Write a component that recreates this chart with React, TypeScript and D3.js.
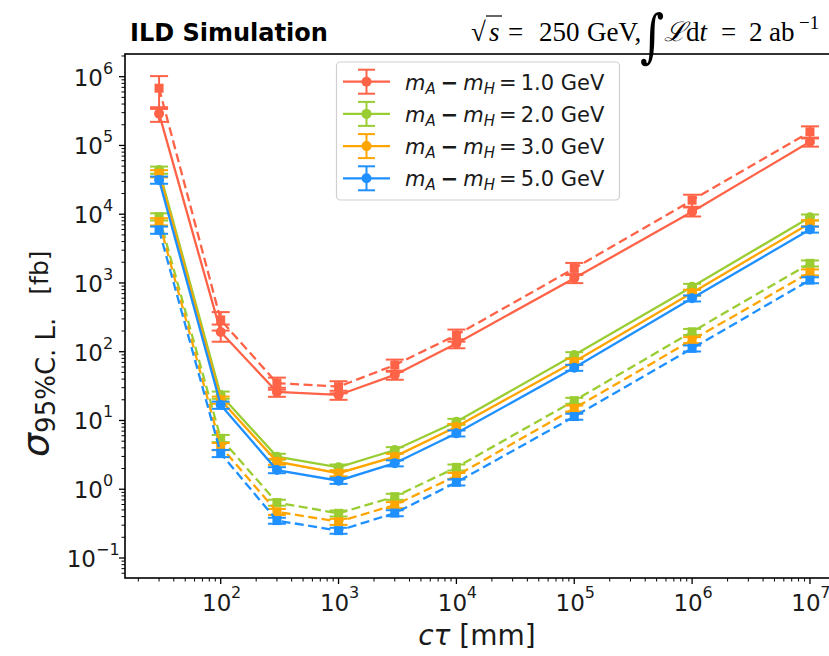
import React from "react";
import * as d3 from "d3";

const W = 829;
const H = 656;

const ctau = [30, 100, 300, 1000, 3000, 1e4, 1e5, 1e6, 1e7];

const red = [2.9e5, 194, 26, 23.5, 46, 132, 1170, 1.09e4, 1.13e5];
const redDash = [6.8e5, 290, 35, 31, 64, 175, 1630, 1.6e4, 1.58e5];
const green = [4.4e4, 23.5, 2.98, 2.08, 3.72, 9.6, 89.5, 883, 9.0e3];
const greenDash = [9.2e3, 5.5, 0.64, 0.446, 0.78, 2.08, 19.4, 195, 1.93e3];
const orange = [3.9e4, 19.9, 2.52, 1.71, 2.98, 8.1, 71.6, 722, 7.4e3];
const orangeDash = [7.8e3, 4.2, 0.47, 0.337, 0.59, 1.57, 15.0, 148, 1.43e3];
const blue = [3.15e4, 16.8, 1.9, 1.33, 2.39, 6.5, 58.6, 598, 6.0e3];
const blueDash = [5.9e3, 3.33, 0.35, 0.25, 0.45, 1.26, 11.4, 112, 1.1e3];

// relative errors
const redErr = [0.24, 0.28, 0.15, 0.15, 0.15, 0.15, 0.15, 0.15, 0.15];
const redDashErr = [0.5, 0.3, 0.2, 0.2, 0.2, 0.2, 0.2, 0.2, 0.2];
const smallErr = [0.12, 0.12, 0.1, 0.1, 0.1, 0.1, 0.1, 0.1, 0.1];

const massLabels = ["1.0", "2.0", "3.0", "5.0"];
const colors = ["#ff6347", "#9acd32", "#ffa500", "#1e90ff"];

const xTicks = [1e2, 1e3, 1e4, 1e5, 1e6, 1e7];
const xTickExp = ["2", "3", "4", "5", "6", "7"];
const yTicks = [1e-1, 1e0, 1e1, 1e2, 1e3, 1e4, 1e5, 1e6];
const yTickExp = ["\u22121", "0", "1", "2", "3", "4", "5", "6"];

const series = [
  { color: colors[0], solid: red, dash: redDash, errS: redErr, errD: redDashErr },
  { color: colors[1], solid: green, dash: greenDash, errS: smallErr, errD: smallErr },
  { color: colors[2], solid: orange, dash: orangeDash, errS: smallErr, errD: smallErr },
  { color: colors[3], solid: blue, dash: blueDash, errS: smallErr, errD: smallErr },
];

const L = 125, R = 832, T = 54, B = 578;

export default function App() {
  const x = d3.scaleLog().domain([Math.pow(10, 1.188), Math.pow(10, 7.187)]).range([L, R]);
  const y = d3.scaleLog().domain([Math.pow(10, -1.291), Math.pow(10, 6.33)]).range([B, T]);
  const line = d3.line<number>().x((_, i) => x(ctau[i])).y((d) => y(d));

  const xMinor: number[] = [];
  for (let e = 1; e <= 7; e++) for (let k = 2; k <= 9; k++) {
    const v = k * Math.pow(10, e);
    if (x(v) >= L && x(v) <= R) xMinor.push(v);
  }
  const yMinor: number[] = [];
  for (let e = -2; e <= 6; e++) for (let k = 2; k <= 9; k++) {
    const v = k * Math.pow(10, e);
    if (y(v) >= T && y(v) <= B) yMinor.push(v);
  }

  const cap = 9;
  const renderSeries = (vals: number[], err: number[], color: string, dashed: boolean, key: string) => (
    <g key={key}>
      <path d={line(vals) || ""} fill="none" stroke={color} strokeWidth={2.3} strokeDasharray={dashed ? "9,4.5" : undefined} />
      {vals.map((v, i) => {
        const cx = x(ctau[i]);
        const y1 = y(v * (1 + err[i]));
        const y0 = y(Math.max(v * (1 - err[i]), 1e-3));
        return (
          <g key={i}>
            <line x1={cx} x2={cx} y1={y0} y2={y1} stroke={color} strokeWidth={2} />
            <line x1={cx - cap} x2={cx + cap} y1={y0} y2={y0} stroke={color} strokeWidth={2} />
            <line x1={cx - cap} x2={cx + cap} y1={y1} y2={y1} stroke={color} strokeWidth={2} />
            {dashed ? (
              <rect x={cx - 4.5} y={y(v) - 4.5} width={9} height={9} fill={color} />
            ) : (
              <circle cx={cx} cy={y(v)} r={5} fill={color} />
            )}
          </g>
        );
      })}
    </g>
  );

  const font = "DejaVu Sans, sans-serif";
  const serif = "Liberation Serif, DejaVu Serif, serif";

  return (
    <svg width={W} height={H} style={{ position: "absolute", left: 0, top: 0, background: "#fff" }}>
      <rect x={0} y={0} width={W} height={H} fill="#fff" />
      {/* data */}
      <g>
        {series.map((s, k) => (
          <g key={k}>
            {renderSeries(s.solid, s.errS, s.color, false, "s" + k)}
            {renderSeries(s.dash, s.errD, s.color, true, "d" + k)}
          </g>
        ))}
      </g>
      {/* frame */}
      <rect x={L} y={T} width={R - L} height={B - T} fill="none" stroke="#000" strokeWidth={1.6} />
      {/* x ticks */}
      {xTicks.map((v, i) => (
        <g key={"xt" + i}>
          <line x1={x(v)} x2={x(v)} y1={B} y2={B + 6} stroke="#000" strokeWidth={1.3} />
          <text x={x(v) - 4} y={611} textAnchor="middle" fontFamily={font} fontSize={23} fill="#1a1a1a">
            10
          </text>
          <text x={x(v) + 15.5} y={598} textAnchor="middle" fontFamily={font} fontSize={16} fill="#1a1a1a">
            {xTickExp[i]}
          </text>
        </g>
      ))}
      {xMinor.map((v, i) => (
        <line key={"xm" + i} x1={x(v)} x2={x(v)} y1={B} y2={B + 3.5} stroke="#000" strokeWidth={1} />
      ))}
      {/* y ticks */}
      {yTicks.map((v, i) => (
        <g key={"yt" + i}>
          <line x1={L - 6} x2={L} y1={y(v)} y2={y(v)} stroke="#000" strokeWidth={1.3} />
          <text x={yTickExp[i].length > 1 ? 96 : 103} y={y(v) + 9} textAnchor="end" fontFamily={font} fontSize={23} fill="#1a1a1a">
            10
          </text>
          <text x={yTickExp[i].length > 1 ? 96 : 103} y={y(v) - 3} textAnchor="start" fontFamily={font} fontSize={16} fill="#1a1a1a">
            {yTickExp[i]}
          </text>
        </g>
      ))}
      {yMinor.map((v, i) => (
        <line key={"ym" + i} x1={L - 3.5} x2={L} y1={y(v)} y2={y(v)} stroke="#000" strokeWidth={1} />
      ))}
      {/* legend */}
      <rect x={336.5} y={62} width={283} height={138} rx={4} fill="#fff" fillOpacity={0.8} stroke="#d0d0d0" strokeWidth={1.2} />
      {massLabels.map((m, i) => {
        const cy = 81.7 + i * 32.2;
        const c = colors[i];
        return (
          <g key={"lg" + i}>
            <line x1={343} x2={390} y1={cy} y2={cy} stroke={c} strokeWidth={2.3} />
            <line x1={366.5} x2={366.5} y1={cy - 12} y2={cy + 12} stroke={c} strokeWidth={2} />
            <line x1={358} x2={375} y1={cy - 12} y2={cy - 12} stroke={c} strokeWidth={2} />
            <line x1={358} x2={375} y1={cy + 12} y2={cy + 12} stroke={c} strokeWidth={2} />
            <circle cx={366.5} cy={cy} r={5} fill={c} />
            <text x={405} y={cy + 8} fontFamily={font} fontSize={21} fill="#1a1a1a">
              <tspan fontStyle="italic">m</tspan>
              <tspan fontStyle="italic" fontSize={15} dy={4}>A</tspan>
              <tspan dy={-4} dx={5} fontWeight="bold">{"\u2212"}</tspan>
              <tspan dx={5} fontStyle="italic">m</tspan>
              <tspan fontStyle="italic" fontSize={15} dy={4}>H</tspan>
              <tspan dy={-4} dx={4}>=</tspan>
              <tspan dx={4}>{m + " GeV"}</tspan>
            </text>
          </g>
        );
      })}
      {/* titles */}
      <text x={130} y={41} fontFamily={font} fontSize={24} fontWeight="bold" fill="#000">
        ILD Simulation
      </text>
      <g fontFamily={serif} fill="#000" fontSize={27}>
        <text x={471} y={41}>{"\u221A"}</text>
        <line x1={486} x2={502} y1={16} y2={16} stroke="#000" strokeWidth={1.2} />
        <text x={489} y={41} fontStyle="italic">s</text>
        <text x={508} y={41}>=</text>
        <text x={539} y={41}>250</text>
        <text x={587} y={41}>GeV,</text>
        <text x={640} y={56} fontSize={58} fontFamily="DejaVu Serif, serif" transform="translate(640,56) scale(0.8,1) translate(-640,-56)">{"\u222B"}</text>
        <text x={664} y={41}>
          <tspan fontStyle="italic">{"\u2112"}</tspan>
          <tspan>d</tspan>
          <tspan fontStyle="italic">t</tspan>
        </text>
        <text x={721} y={41}>=</text>
        <text x={749} y={41}>2</text>
        <text x={769} y={41}>ab</text>
        <text x={799} y={29} fontSize={19}>{"\u22121"}</text>
      </g>
      {/* axis labels */}
      <text x={477} y={645} textAnchor="middle" fontFamily={font} fontSize={28} fill="#1a1a1a">
        <tspan fontStyle="italic">c</tspan>
        <tspan fontStyle="italic">{"\u03C4"}</tspan>
        <tspan> [mm]</tspan>
      </text>
      <g transform="translate(48,457) rotate(-90)">
        <text x={0} y={0} fontFamily={font} fill="#1a1a1a">
          <tspan fontSize={38} fontStyle="italic">{"\u03C3"}</tspan>
          <tspan fontSize={26} dy={7}>95%C. L.</tspan>
          <tspan fontSize={25} dy={-7} dx={23}>[fb]</tspan>
        </text>
      </g>
    </svg>
  );
}
